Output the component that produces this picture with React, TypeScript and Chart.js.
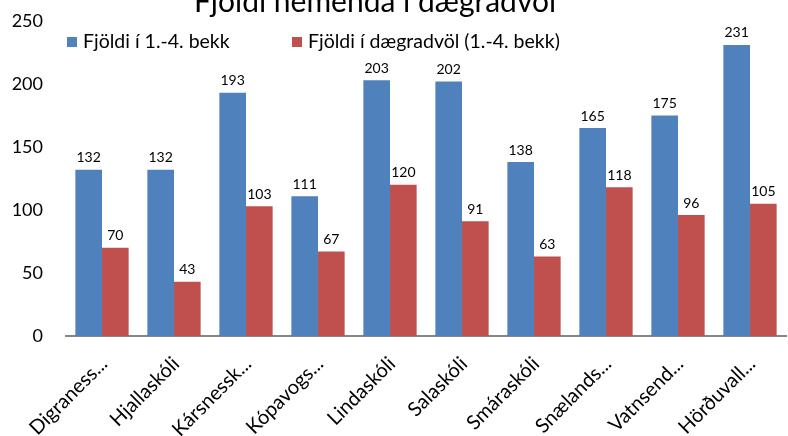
import { useEffect, useRef } from 'react';
import { Chart, registerables } from 'chart.js';

Chart.register(...registerables);

const chartTitle = 'Fjöldi nemenda í dægradvöl';
const categories = ['Digraness...', 'Hjallaskóli', 'Kársnessk...', 'Kópavogs...', 'Lindaskóli', 'Salaskóli', 'Smáraskóli', 'Snælands...', 'Vatnsend...', 'Hörðuvall...'];
const seriesNames = ['Fjöldi í 1.-4. bekk', 'Fjöldi í dægradvöl (1.-4. bekk)'];
const pupils = [132, 132, 193, 111, 203, 202, 138, 165, 175, 231];
const afterSchool = [70, 43, 103, 67, 120, 91, 63, 118, 96, 105];
const yTicks = [0, 50, 100, 150, 200, 250];

const FONT = 'Lato, "Open Sans", sans-serif';
const COLORS = ['#4F81BD', '#C0504D'];

const overlayPlugin = {
  id: 'overlay',
  afterDatasetsDraw(chart: any) {
    const ctx = chart.ctx;
    ctx.save();
    ctx.fillStyle = '#000';
    ctx.font = `14px ${FONT}`;
    ctx.textAlign = 'center';
    ctx.textBaseline = 'bottom';
    chart.data.datasets.forEach((ds: any, i: number) => {
      const meta = chart.getDatasetMeta(i);
      meta.data.forEach((el: any, j: number) => {
        ctx.fillText(String(ds.data[j]), el.x, el.y - 5);
      });
    });
    const legendX = [67, 292];
    ctx.font = `19.5px ${FONT}`;
    ctx.textAlign = 'left';
    ctx.textBaseline = 'alphabetic';
    chart.data.datasets.forEach((ds: any, i: number) => {
      ctx.fillStyle = ds.backgroundColor;
      ctx.fillRect(legendX[i], 37, 10, 10);
      ctx.fillStyle = '#000';
      ctx.fillText(ds.label, legendX[i] + 16, 48);
    });
    ctx.font = `30px ${FONT}`;
    ctx.textAlign = 'center';
    ctx.fillText(chartTitle, 375, 12);
    ctx.restore();
  },
};

export default function App() {
  const ref = useRef<HTMLCanvasElement>(null);
  useEffect(() => {
    if (!ref.current) return;
    const chart = new Chart(ref.current, {
      type: 'bar',
      data: {
        labels: categories,
        datasets: [
          { label: seriesNames[0], data: pupils, backgroundColor: COLORS[0], categoryPercentage: 0.74, barPercentage: 1 },
          { label: seriesNames[1], data: afterSchool, backgroundColor: COLORS[1], categoryPercentage: 0.74, barPercentage: 1 },
        ],
      },
      options: {
        animation: false,
        responsive: true,
        maintainAspectRatio: false,
        layout: { padding: { top: 21, right: 2, left: 0, bottom: 0 } },
        plugins: { legend: { display: false }, title: { display: false }, tooltip: { enabled: false } },
        scales: {
          x: {
            grid: { display: false, drawTicks: true, tickLength: 8 },
            border: { display: true, color: '#868686', width: 2 },
            ticks: { color: '#000', font: { family: FONT, size: 20 }, minRotation: 45, maxRotation: 45, autoSkip: false, padding: 8, labelOffset: 2 },
            afterFit: (s: any) => { s.height = 100; },
          },
          y: {
            min: 0,
            max: 250,
            afterBuildTicks: (s: any) => { s.ticks = yTicks.map((v) => ({ value: v })); },
            grid: { display: false, drawTicks: true, tickLength: 20 },
            border: { display: false },
            ticks: { color: '#000', font: { family: FONT, size: 18 }, padding: 3 },
            afterFit: (s: any) => { s.width = 66; },
          },
        },
      },
      plugins: [overlayPlugin],
    });
    return () => chart.destroy();
  }, []);
  return (
    <div style={{ position: 'fixed', left: 0, top: 0, width: 788, height: 436, background: '#fff' }}>
      <canvas ref={ref} />
    </div>
  );
}
